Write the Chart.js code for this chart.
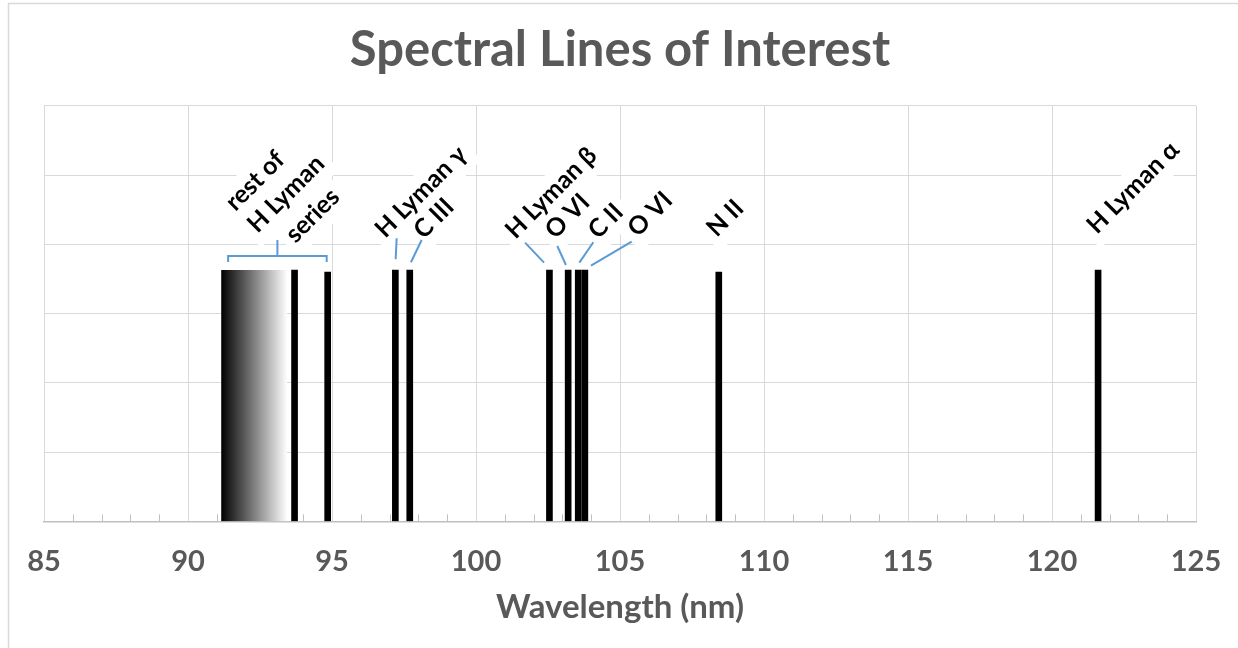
<!DOCTYPE html>
<html>
<head>
<meta charset="utf-8">
<script src="https://cdn.jsdelivr.net/npm/chart.js@4.4.1/dist/chart.umd.min.js"></script>
<style>
  html, body { margin: 0; padding: 0; background: #fff; }
  #wrap { position: relative; width: 1238px; height: 648px; }
</style>
</head>
<body>
<div id="wrap"><canvas id="spectrumChart"></canvas></div>
<script>
// wavelengths (nm) of the individual lines and their drawn strength
const lineWavelengths = [93.7, 94.85, 97.2, 97.7, 102.55, 103.2, 103.55, 103.78, 108.43, 121.6];
const lineStrengths   = [3.63, 3.60, 3.63, 3.63, 3.63, 3.63, 3.63, 3.63, 3.60, 3.63];
const lineNames       = [null, null, 'H Lyman γ', 'C III', 'H Lyman β', 'O VI', 'C II', 'O VI', 'N II', 'H Lyman α'];

// rest of the Lyman series, drawn as a fading band
const bandEdges = [91.15, 93.45];
const bandStrength = [3.63, 3.63];
const bandCaption = ['rest of', 'H Lyman', 'series'];

const xRange = [85, 125];
const xStep = 5;
const minorStep = 1;
const yRange = [0, 6];

const FONT = 'Lato, "Open Sans", sans-serif';
const GREY_TEXT = '#595959';
const LEADER = '#5B9BD5';

// label placement: text start and leader line, in px relative to the line top
const labelLayout = {
    'H Lyman γ': { sx: -10, sy: -31, lead: [1.3, -31.7, 0.3, -10.7] },
    'C III':     { sx: 14,  sy: -30, lead: [11.9, -30, 1.2, -7.7] },
    'H Lyman β': { sx: -34, sy: -30, lead: [-24.4, -27.3, -5.4, -7.3] },
    'O VI':      { sx: -13, sy: -30, lead: [-10.9, -24, -2.2, -5] },
    'C II':      { sx: 20,  sy: -30, lead: [15.1, -27.7, 1.1, -7.3] },
    'O VI#2':    { sx: 53,  sy: -32, lead: [46.8, -28.3, 6.1, -4.3] },
    'N II':      { sx: -2,  sy: -34, lead: null },
    'H Lyman α': { sx: -1,  sy: -35, lead: null }
};
const captionStarts = [[-42, -58], [-20, -36], [18, -26]];

function bandFill(c) {
    const chart = c.chart;
    const xs = chart.scales.x;
    if (!chart.chartArea || !xs) return '#000';
    const g = chart.ctx.createLinearGradient(xs.getPixelForValue(bandEdges[0]), 0, xs.getPixelForValue(bandEdges[1]), 0);
    g.addColorStop(0, '#000000');
    g.addColorStop(1, '#ffffff');
    return g;
}

const framePlugin = {
    id: 'frame',
    beforeDraw(chart) {
        const ctx = chart.ctx;
        ctx.save();
        ctx.strokeStyle = '#d9d9d9';
        ctx.lineWidth = 1.5;
        ctx.strokeRect(8.5, 3.5, chart.width + 20, chart.height + 20);
        ctx.restore();
    }
};

const minorTicks = {
    id: 'minorTicks',
    beforeDatasetsDraw(chart) {
        const ctx = chart.ctx;
        const xs = chart.scales.x;
        const bottom = chart.chartArea.bottom;
        ctx.save();
        ctx.strokeStyle = '#bfbfbf';
        ctx.lineWidth = 1;
        for (let v = xRange[0] + minorStep; v < xRange[1]; v += minorStep) {
            if (v % xStep === 0) continue;
            const px = Math.round(xs.getPixelForValue(v)) + 0.5;
            ctx.beginPath();
            ctx.moveTo(px, bottom);
            ctx.lineTo(px, bottom - 7);
            ctx.stroke();
        }
        ctx.restore();
    }
};

function rotatedText(ctx, text, x, y, mode) {
    ctx.save();
    ctx.translate(x, y);
    ctx.rotate(-Math.PI / 4);
    if (mode === 'bg') {
        const w = ctx.measureText(text).width;
        ctx.fillStyle = '#fff';
        ctx.fillRect(-7, -25, w + 14, 37);
    } else {
        ctx.fillStyle = '#000';
        ctx.fillText(text, 0, 0);
    }
    ctx.restore();
}

const annotations = {
    id: 'annotations',
    afterDatasetsDraw(chart) {
        const ctx = chart.ctx;
        const xs = chart.scales.x;
        const ys = chart.scales.y;
        ctx.save();
        ctx.font = 'bold 25px ' + FONT;
        ctx.textAlign = 'left';
        ctx.textBaseline = 'alphabetic';

        const items = [];
        const seen = {};
        lineNames.forEach((name, i) => {
            if (!name) return;
            const key = seen[name] ? name + '#2' : name;
            seen[name] = true;
            const lay = labelLayout[key];
            const lx = xs.getPixelForValue(lineWavelengths[i]);
            const ly = ys.getPixelForValue(lineStrengths[i]);
            items.push({ name, lay, lx, ly });
        });

        const bx0 = xs.getPixelForValue(bandEdges[0]) + 7;
        const bx1 = xs.getPixelForValue(lineWavelengths[1]) - 1;
        const bc = (bx0 + bx1) / 2;
        const by = ys.getPixelForValue(bandStrength[0]);

        // white backing boxes first
        items.forEach(it => rotatedText(ctx, it.name, it.lx + it.lay.sx, it.ly + it.lay.sy, 'bg'));
        bandCaption.forEach((t, k) => rotatedText(ctx, t, bc + captionStarts[k][0], by + captionStarts[k][1], 'bg'));

        // leader lines and bracket
        ctx.strokeStyle = LEADER;
        ctx.lineWidth = 2;
        items.forEach(it => {
            if (!it.lay.lead) return;
            const l = it.lay.lead;
            ctx.beginPath();
            ctx.moveTo(it.lx + l[0], it.ly + l[1]);
            ctx.lineTo(it.lx + l[2], it.ly + l[3]);
            ctx.stroke();
        });
        ctx.beginPath();
        ctx.moveTo(bx0, by - 8);
        ctx.lineTo(bx0, by - 14);
        ctx.lineTo(bx1, by - 14);
        ctx.lineTo(bx1, by - 8);
        ctx.moveTo(bc, by - 14);
        ctx.lineTo(bc, by - 30);
        ctx.stroke();

        // text
        items.forEach(it => rotatedText(ctx, it.name, it.lx + it.lay.sx, it.ly + it.lay.sy, 'text'));
        bandCaption.forEach((t, k) => rotatedText(ctx, t, bc + captionStarts[k][0], by + captionStarts[k][1], 'text'));
        ctx.restore();
    }
};

new Chart(document.getElementById('spectrumChart'), {
    type: 'bar',
    data: {
        datasets: [
            {
                type: 'line',
                data: bandEdges.map((x, i) => ({ x, y: bandStrength[i] })),
                fill: 'origin',
                backgroundColor: bandFill,
                borderColor: 'rgba(0,0,0,0)',
                borderWidth: 0,
                pointRadius: 0,
                order: 2
            },
            {
                type: 'bar',
                data: lineWavelengths.map((x, i) => ({ x, y: lineStrengths[i] })),
                backgroundColor: '#000',
                barThickness: 6,
                order: 1
            }
        ]
    },
    options: {
        responsive: true,
        maintainAspectRatio: false,
        animation: false,
        layout: { padding: { left: 44, right: 42, top: 0, bottom: 21 } },
        plugins: {
            legend: { display: false },
            tooltip: { enabled: false },
            title: {
                display: true,
                text: 'Spectral Lines of Interest',
                color: GREY_TEXT,
                font: { family: FONT, size: 49, weight: 'bold' },
                padding: { top: 21, bottom: 26 }
            }
        },
        scales: {
            x: {
                type: 'linear',
                min: xRange[0],
                max: xRange[1],
                offset: false,
                afterFit(scale) {
                    // edge labels may hang over the plot frame
                    scale.paddingLeft = 0;
                    scale.paddingRight = 0;
                },
                ticks: { stepSize: xStep, color: GREY_TEXT, padding: 22.6, font: { family: FONT, size: 29, weight: 'bold' } },
                grid: { color: '#d9d9d9', drawTicks: false, offset: false },
                border: { color: '#bfbfbf', width: 1.5 },
                title: {
                    display: true,
                    text: 'Wavelength (nm)',
                    color: GREY_TEXT,
                    font: { family: FONT, size: 33, weight: 'bold' },
                    padding: { top: -14, bottom: 0 }
                }
            },
            y: {
                min: yRange[0],
                max: yRange[1],
                ticks: { stepSize: 1, display: false },
                grid: { color: '#d9d9d9', drawTicks: false },
                border: { display: false }
            }
        }
    },
    plugins: [framePlugin, minorTicks, annotations]
});
</script>
</body>
</html>
